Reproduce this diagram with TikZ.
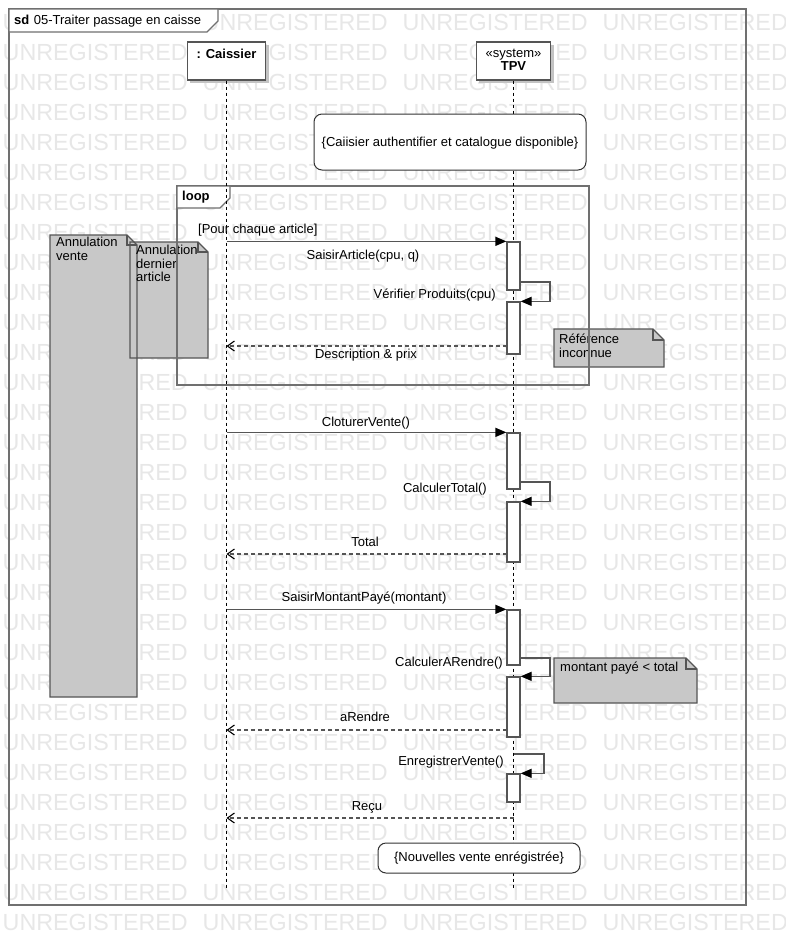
\documentclass[tikz,border=0pt]{standalone}
\usepackage{fontspec}
\setmainfont{Liberation Sans}
\usetikzlibrary{arrows.meta}
\definecolor{wm}{RGB}{231,231,231}
\definecolor{framegray}{RGB}{112,112,112}
\definecolor{linegray}{RGB}{85,85,85}
\definecolor{notefill}{RGB}{200,200,200}
\definecolor{shadowgray}{RGB}{195,195,195}
\tikzset{
  lbl/.style={font=\fontsize{13}{15}\selectfont, inner sep=0pt, text=black, text height=9.5pt, text depth=2.5pt},
  notetext/.style={font=\fontsize{13}{13.5}\selectfont, inner sep=0pt, text=black, align=left, anchor=north west},
  wmark/.style={font=\fontsize{23.3}{26}\selectfont, text=wm, anchor=west, inner sep=0pt},
  framebox/.style={draw=framegray, line width=1.3pt},
  lifebox/.style={draw=linegray, fill=white, line width=1.3pt, inner sep=0pt},
  lifeline/.style={draw=black, line width=0.9pt, dash pattern=on 3pt off 3pt},
  actbox/.style={draw=linegray, fill=white, line width=1.3pt, minimum width=13pt, inner sep=0pt},
  msg/.style={draw=linegray, line width=1.3pt, -{Triangle[length=11pt,width=9pt,color=black]}},
  ret/.style={draw=linegray, line width=1.1pt, dash pattern=on 4pt off 3pt, -{Straight Barb[length=7pt,width=10pt,color=black]}},
  notebody/.style={fill=notefill},
  noteline/.style={draw=linegray, line width=1.2pt, line join=miter},
  constr/.style={draw=black!80, fill=white, line width=1pt, rounded corners=8pt, inner sep=0pt}
}
\begin{document}
\begin{tikzpicture}[x=1pt,y=-1pt]
\useasboundingbox (0,0) rectangle (786,946);
\fill[white] (0,0) rectangle (786,946);
% watermark
\foreach \k in {0,...,30}{
  \foreach \j in {0,1,2,3}{
    \node[wmark] (wm-\k-\j) at (2.5+200*\j, 22+30*\k) {UNREGISTERED};
  }
}
% notes (fills)
\fill[notebody] (50,235) -- (127,235) -- (137,245) -- (137,697) -- (50,697) -- cycle;
\fill[notebody] (130,242) -- (198,242) -- (208,252) -- (208,358) -- (130,358) -- cycle;
\fill[notebody] (554,329) -- (653,329) -- (664,340) -- (664,367) -- (554,367) -- cycle;
\fill[notebody] (554,658) -- (686,658) -- (697,669) -- (697,703) -- (554,703) -- cycle;
% notes (outlines)
\draw[noteline] (50,235) -- (127,235) -- (137,245) -- (137,697) -- (50,697) -- cycle;
\draw[noteline] (127,235) -- (127,245) -- (137,245);
\draw[noteline] (130,242) -- (198,242) -- (208,252) -- (208,358) -- (130,358) -- cycle;
\draw[noteline] (198,242) -- (198,252) -- (208,252);
\draw[noteline] (554,329) -- (653,329) -- (664,340) -- (664,367) -- (554,367) -- cycle;
\draw[noteline] (653,329) -- (653,340) -- (664,340);
\draw[noteline] (554,658) -- (686,658) -- (697,669) -- (697,703) -- (554,703) -- cycle;
\draw[noteline] (686,658) -- (686,669) -- (697,669);
\node[notetext] (n1) at (56,237) {Annulation\\vente};
\node[notetext] (n2) at (136,245) {Annulation\\dernier\\article};
\node[notetext] (n3) at (559,334) {Référence\\inconnue};
\node[notetext] (n4) at (560,662) {montant payé < total};
% outer frame
\draw[framebox] (9,9) rectangle (746,905);
\draw[framebox, fill=white] (9,9) -- (218,9) -- (218,21) -- (207,32) -- (9,32) -- cycle;
\node[lbl, anchor=west] (title) at (14,21) {\textbf{sd}\hspace{4.5pt}05-Traiter passage en caisse};
% loop frame
\draw[framebox] (177,186) rectangle (589,385);
\draw[framebox, fill=white] (177,186) -- (230,186) -- (230,198) -- (220,208) -- (177,208) -- cycle;
\node[lbl, anchor=west] (looplbl) at (182,197) {\textbf{loop}};
\node[lbl, anchor=west] (guard) at (198,230) {[Pour chaque article]};
% lifeline heads
\fill[shadowgray] (190,45) rectangle (269,83);
\fill[shadowgray] (479,45) rectangle (554,83);
\node[lifebox, minimum width=78pt, minimum height=38pt] (cHead) at (226.5,61) {};
\node[lifebox, minimum width=74pt, minimum height=38pt] (tHead) at (513.5,61) {};
\node[lbl] (cName) at (226.5,55) {\textbf{: Caissier}};
\node[lbl] (tSter) at (513.5,54) {«system»};
\node[lbl] (tName) at (513.5,67) {\textbf{TPV}};
% lifelines
\coordinate (cEnd) at (226.5,890);
\coordinate (tEnd) at (513.5,890);
\draw[lifeline] (cHead.south) -- (cEnd);
\draw[lifeline] (tHead.south) -- (tEnd);
% constraints
\node[constr, minimum width=272pt, minimum height=56pt] (pre) at (450,142) {};
\node[lbl] (preT) at (450,143) {\{Caiisier authentifier et catalogue disponible\}};
\node[constr, minimum width=202pt, minimum height=30pt] (post) at (479,858) {};
\node[lbl] (postT) at (479,858) {\{Nouvelles vente enrégistrée\}};
% activations
\node[actbox, minimum height=48pt] (a1) at (513.5,266) {};
\node[actbox, minimum height=52pt] (a2) at (513.5,328) {};
\node[actbox, minimum height=56pt] (a3) at (513.5,461) {};
\node[actbox, minimum height=60pt] (a4) at (513.5,532) {};
\node[actbox, minimum height=55pt] (a5) at (513.5,637.5) {};
\node[actbox, minimum height=60pt] (a6) at (513.5,707) {};
\node[actbox, minimum height=28pt] (a7) at (513.5,788) {};
% messages
\draw[msg] (cHead.south |- a1.north west) -- (a1.north west);
\node[lbl] (l1) at (363,256) {SaisirArticle(cpu, q)};
\coordinate (s1) at (520,282);
\draw[msg] (s1) -- ++(30,0) |- (a2.north east);
\node[lbl, anchor=east] (l2) at (496,295) {Vérifier Produits(cpu)};
\coordinate (r1) at (507,346);
\draw[ret] (r1) -- (r1 -| cHead.south);
\node[lbl] (l3) at (366,355) {Description \& prix};

\draw[msg] (cHead.south |- a3.north west) -- (a3.north west);
\node[lbl] (l4) at (366,423) {CloturerVente()};
\coordinate (s2) at (520,482);
\draw[msg] (s2) -- ++(30,0) |- (a4.north east);
\node[lbl, anchor=east] (l5) at (487,489) {CalculerTotal()};
\coordinate (r2) at (507,554);
\draw[ret] (r2) -- (r2 -| cHead.south);
\node[lbl] (l6) at (365,543) {Total};

\draw[msg] (cHead.south |- a5.north west) -- (a5.north west);
\node[lbl] (l7) at (364,598) {SaisirMontantPayé(montant)};
\coordinate (s3) at (520,658);
\draw[msg] (s3) -- ++(30,0) |- (a6.north east);
\node[lbl, anchor=east] (l8) at (503,663) {CalculerARendre()};
\coordinate (r3) at (507,730);
\draw[ret] (r3) -- (r3 -| cHead.south);
\node[lbl] (l9) at (365,718) {aRendre};

\coordinate (s4) at (513.5,754);
\draw[msg] (s4) -- ++(30.5,0) |- (a7.north east);
\node[lbl, anchor=east] (l10) at (504,762) {EnregistrerVente()};
\coordinate (r4) at (513.5,818);
\draw[ret] (r4) -- (r4 -| cHead.south);
\node[lbl] (l11) at (367,807) {Reçu};
\end{tikzpicture}
\end{document}
